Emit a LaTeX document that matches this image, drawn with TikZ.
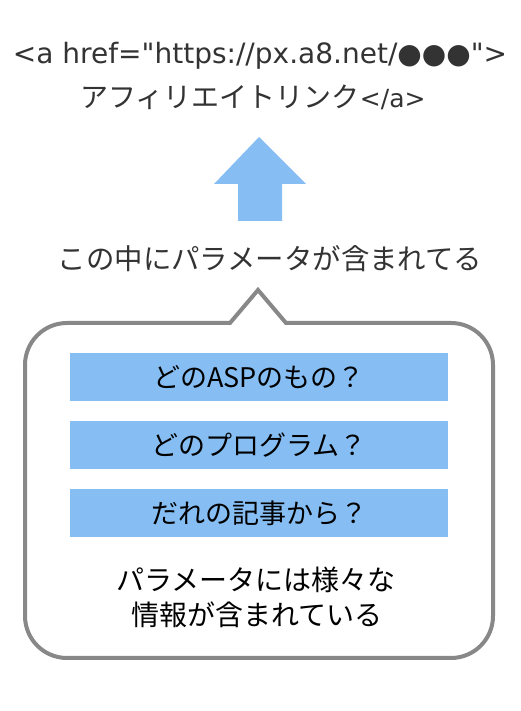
\documentclass[tikz,border=0pt]{standalone}
\usepackage{fontspec}
\setmainfont{Noto Sans CJK JP}
\newfontfamily\latinfont{DejaVu Sans}
\definecolor{skyblue}{HTML}{86BEF3}
\definecolor{bubblegray}{HTML}{888888}
\definecolor{darktext}{HTML}{333333}
\begin{document}
\begin{tikzpicture}[x=1pt,y=1pt,
  txt/.style={inner sep=0pt, font=\fontsize{28}{33}\selectfont},
  qbox/.style={fill=skyblue, minimum width=378pt, minimum height=48pt, inner sep=0pt, font=\fontsize{27}{30}\selectfont, text=black}]
\useasboundingbox (0,0) rectangle (520,711);
% title
\node[inner sep=0pt, text=darktext, font=\latinfont\fontsize{28}{33}\selectfont] (t1) at (260,655) {<a href=\char34 https://px.a8.net/●●●\char34>};
\node[txt, text=darktext] (t2) at (253,614) {アフィリエイトリンク{\latinfont\fontsize{25}{30}\selectfont</a>}};
% arrow
\fill[skyblue] (259,574) -- (306,527) -- (282,527) -- (282,490) -- (238,490) -- (238,527) -- (214,527) -- cycle;
% caption
\node[txt, text=darktext, font=\fontsize{28.4}{33}\selectfont] (cap) at (270,452) {この中にパラメータが含まれてる};
% bubble
\draw[bubblegray, line width=4pt, line join=miter]
  (230,388) -- (258,421) -- (286,388) -- (451,388)
  arc[start angle=90,end angle=0,radius=42] -- (493,95)
  arc[start angle=0,end angle=-90,radius=42] -- (67,53)
  arc[start angle=270,end angle=180,radius=42] -- (25,346)
  arc[start angle=180,end angle=90,radius=42] -- cycle;
% boxes
\node[qbox] (b1) at (259,334) {どのASPのもの？};
\node[qbox] (b2) at (259,266) {どのプログラム？};
\node[qbox] (b3) at (259,198) {だれの記事から？};
% bottom text
\node[txt, text=black] (n1) at (256,131) {パラメータには様々な};
\node[txt, text=black] (n2) at (257,96) {情報が含まれている};
\end{tikzpicture}
\end{document}
